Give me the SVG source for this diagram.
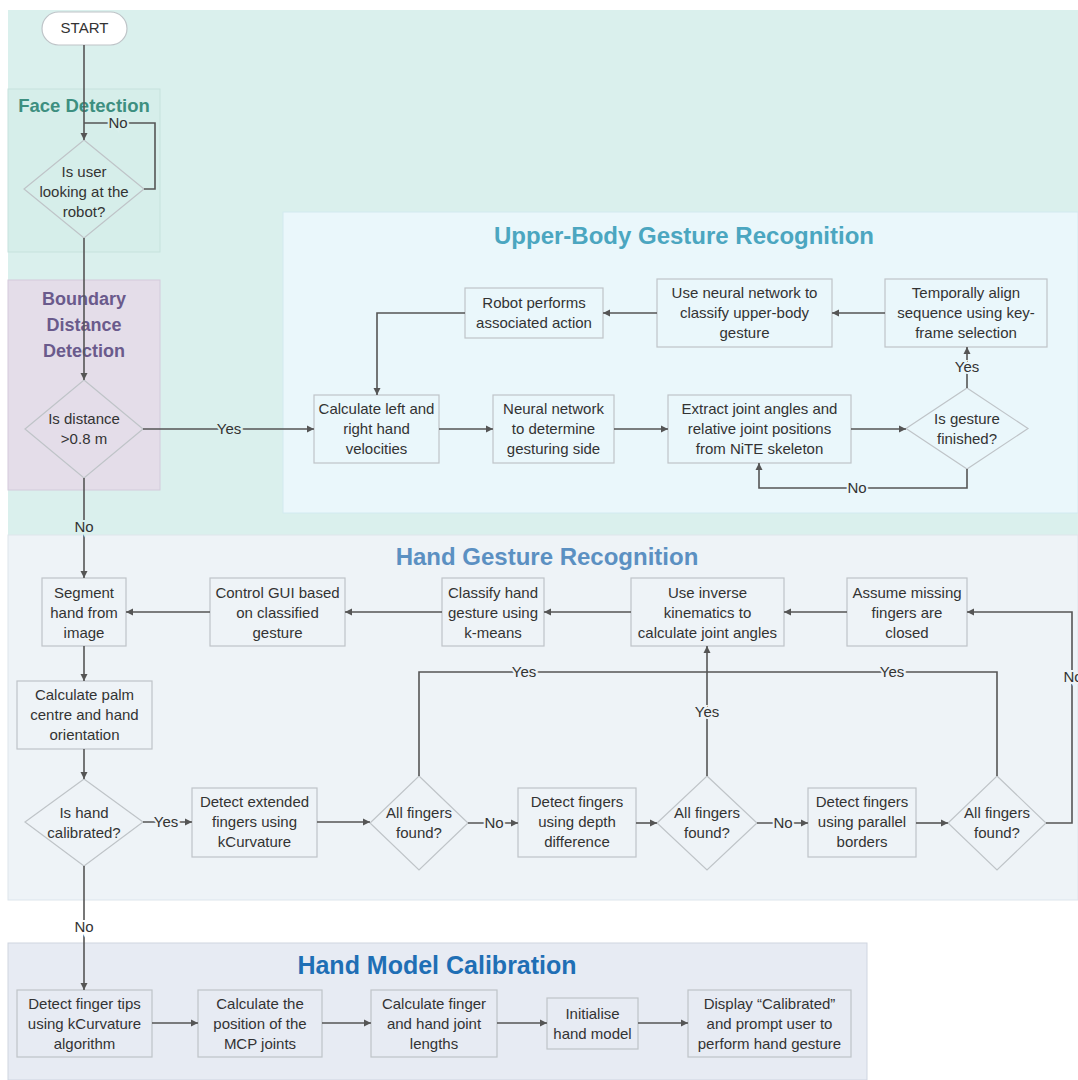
<svg xmlns="http://www.w3.org/2000/svg" width="1078" height="1080" viewBox="0 0 1078 1080">
<defs>
<marker id="arr" markerUnits="userSpaceOnUse" markerWidth="8" markerHeight="8" refX="7" refY="4" orient="auto">
<path d="M0,0.5 L7,4 L0,7.5 z" fill="#555"/>
</marker>
<style>
.t{font-family:"Liberation Sans",Arial,sans-serif;font-size:15px;fill:#333;text-anchor:middle}
.lbl{font-family:"Liberation Sans",Arial,sans-serif;font-size:15px;fill:#333;text-anchor:middle;paint-order:stroke;stroke-width:4px}
.lt{stroke:#daf0ed}.lu{stroke:#eaf7fb}.lh{stroke:#eef3f7}.lw{stroke:#ffffff}
.title{font-family:"Liberation Sans",Arial,sans-serif;font-weight:bold;text-anchor:middle}
.box{fill:none;stroke:#bfc4c8;stroke-width:1.2}
.c{fill:none;stroke:#555;stroke-width:1.6}
.ca{fill:none;stroke:#555;stroke-width:1.6;marker-end:url(#arr)}
</style>
</defs>
<rect width="1078" height="1080" fill="#ffffff"/>
<g id="regions">
<rect x="8" y="10" width="1070" height="525" fill="#daf0ed"/>
<rect x="8" y="89" width="152" height="163" fill="#d6eeea" stroke="#c6e2dd"/>
<rect x="8" y="280" width="152" height="210" fill="#e4dde9" stroke="#d3cadb"/>
<rect x="283" y="212" width="795" height="301" fill="#eaf7fb" stroke="#d2eaf0"/>
<rect x="8" y="535" width="1070" height="365" fill="#eef3f7" stroke="#dde5ec"/>
<rect x="8" y="943" width="859" height="137" fill="#e7ebf3" stroke="#cfd5e0"/>
</g>
<g id="titles">
<text class="title" x="84" y="112" font-size="18.5" fill="#3d8f80">Face Detection</text>
<text class="title" x="84" y="305" font-size="18" fill="#6a5a8c">Boundary</text>
<text class="title" x="84" y="331" font-size="18" fill="#6a5a8c">Distance</text>
<text class="title" x="84" y="357" font-size="18" fill="#6a5a8c">Detection</text>
<text class="title" x="684" y="244" font-size="24" fill="#4ba6c0">Upper-Body Gesture Recognition</text>
<text class="title" x="547" y="565" font-size="24" fill="#5b90c2">Hand Gesture Recognition</text>
<text class="title" x="437" y="974" font-size="25" fill="#1f6fb5">Hand Model Calibration</text>
</g>
<g id="nodes">
<g id="start"><rect x="42" y="12" width="85" height="33" rx="16.5" fill="#ffffff" stroke="#bfc4c8" stroke-width="1.2"/><text class="t" x="84.5" y="33">START</text></g>
<g id="d_face"><polygon class="box" points="84,140 144,189 84,238 24,189"/><text class="t" x="84" y="177">Is user</text><text class="t" x="84" y="197">looking at the</text><text class="t" x="84" y="217">robot?</text></g>
<g id="d_dist"><polygon class="box" points="84,380 143,429 84,478 25,429"/><text class="t" x="84" y="424">Is distance</text><text class="t" x="84" y="444">&gt;0.8 m</text></g>
<g id="robot"><rect class="box" x="465" y="288" width="138" height="50"/><text class="t" x="534" y="308">Robot performs</text><text class="t" x="534" y="328">associated action</text></g>
<g id="nn_classify"><rect class="box" x="657" y="279" width="175" height="68"/><text class="t" x="744.5" y="298">Use neural network to</text><text class="t" x="744.5" y="318">classify upper-body</text><text class="t" x="744.5" y="338">gesture</text></g>
<g id="temporal"><rect class="box" x="885" y="279" width="162" height="68"/><text class="t" x="966" y="298">Temporally align</text><text class="t" x="966" y="318">sequence using key-</text><text class="t" x="966" y="338">frame selection</text></g>
<g id="calc_vel"><rect class="box" x="314" y="395" width="125" height="68"/><text class="t" x="376.5" y="414">Calculate left and</text><text class="t" x="376.5" y="434">right hand</text><text class="t" x="376.5" y="454">velocities</text></g>
<g id="nn_side"><rect class="box" x="493" y="395" width="121" height="68"/><text class="t" x="553.5" y="414">Neural network</text><text class="t" x="553.5" y="434">to determine</text><text class="t" x="553.5" y="454">gesturing side</text></g>
<g id="extract"><rect class="box" x="668" y="395" width="183" height="68"/><text class="t" x="759.5" y="414">Extract joint angles and</text><text class="t" x="759.5" y="434">relative joint positions</text><text class="t" x="759.5" y="454">from NiTE skeleton</text></g>
<g id="d_gesture"><polygon class="box" points="967,388 1028,428.5 967,469 906,428.5"/><text class="t" x="967" y="424">Is gesture</text><text class="t" x="967" y="444">finished?</text></g>
<g id="segment"><rect class="box" x="42" y="578" width="84" height="68"/><text class="t" x="84" y="598">Segment</text><text class="t" x="84" y="618">hand from</text><text class="t" x="84" y="638">image</text></g>
<g id="control"><rect class="box" x="210" y="578" width="135" height="68"/><text class="t" x="277.5" y="598">Control GUI based</text><text class="t" x="277.5" y="618">on classified</text><text class="t" x="277.5" y="638">gesture</text></g>
<g id="classify"><rect class="box" x="442" y="578" width="102" height="68"/><text class="t" x="493" y="598">Classify hand</text><text class="t" x="493" y="618">gesture using</text><text class="t" x="493" y="638">k-means</text></g>
<g id="ik"><rect class="box" x="631" y="578" width="153" height="68"/><text class="t" x="707.5" y="598">Use inverse</text><text class="t" x="707.5" y="618">kinematics to</text><text class="t" x="707.5" y="638">calculate joint angles</text></g>
<g id="assume"><rect class="box" x="847" y="578" width="120" height="68"/><text class="t" x="907" y="598">Assume missing</text><text class="t" x="907" y="618">fingers are</text><text class="t" x="907" y="638">closed</text></g>
<g id="palm"><rect class="box" x="17" y="681" width="135" height="68"/><text class="t" x="84.5" y="700">Calculate palm</text><text class="t" x="84.5" y="720">centre and hand</text><text class="t" x="84.5" y="740">orientation</text></g>
<g id="d_calib"><polygon class="box" points="84,779 143,822 84,866 25,822"/><text class="t" x="84" y="818">Is hand</text><text class="t" x="84" y="838">calibrated?</text></g>
<g id="ext"><rect class="box" x="192" y="788" width="125" height="69"/><text class="t" x="254.5" y="807">Detect extended</text><text class="t" x="254.5" y="827">fingers using</text><text class="t" x="254.5" y="847">kCurvature</text></g>
<g id="d_all1"><polygon class="box" points="419,776 468,823 419,870 370,823"/><text class="t" x="419" y="818">All fingers</text><text class="t" x="419" y="838">found?</text></g>
<g id="depth"><rect class="box" x="518" y="788" width="118" height="69"/><text class="t" x="577" y="807">Detect fingers</text><text class="t" x="577" y="827">using depth</text><text class="t" x="577" y="847">difference</text></g>
<g id="d_all2"><polygon class="box" points="707,776 757,823 707,870 657,823"/><text class="t" x="707" y="818">All fingers</text><text class="t" x="707" y="838">found?</text></g>
<g id="parallel"><rect class="box" x="808" y="788" width="108" height="69"/><text class="t" x="862" y="807">Detect fingers</text><text class="t" x="862" y="827">using parallel</text><text class="t" x="862" y="847">borders</text></g>
<g id="d_all3"><polygon class="box" points="997,776 1046,823 997,870 948,823"/><text class="t" x="997" y="818">All fingers</text><text class="t" x="997" y="838">found?</text></g>
<g id="tips"><rect class="box" x="17" y="990" width="135" height="67"/><text class="t" x="84.5" y="1009">Detect finger tips</text><text class="t" x="84.5" y="1029">using kCurvature</text><text class="t" x="84.5" y="1049">algorithm</text></g>
<g id="mcp"><rect class="box" x="198" y="990" width="124" height="67"/><text class="t" x="260" y="1009">Calculate the</text><text class="t" x="260" y="1029">position of the</text><text class="t" x="260" y="1049">MCP joints</text></g>
<g id="lengths"><rect class="box" x="371" y="990" width="126" height="67"/><text class="t" x="434" y="1009">Calculate finger</text><text class="t" x="434" y="1029">and hand joint</text><text class="t" x="434" y="1049">lengths</text></g>
<g id="init"><rect class="box" x="547" y="998" width="91" height="51"/><text class="t" x="592.5" y="1019">Initialise</text><text class="t" x="592.5" y="1039">hand model</text></g>
<g id="display"><rect class="box" x="688" y="990" width="163" height="67"/><text class="t" x="769.5" y="1009">Display “Calibrated”</text><text class="t" x="769.5" y="1029">and prompt user to</text><text class="t" x="769.5" y="1049">perform hand gesture</text></g>
</g>
<g id="connectors">
<path class="ca" d="M84,45 V140"/>
<path class="c" d="M144,189 H155 V123 H84"/>
<text class="lbl lt" x="118" y="128">No</text>
<path class="ca" d="M84,238 V380"/>
<path class="ca" d="M143,429 H314"/>
<text class="lbl lt" x="229" y="434">Yes</text>
<path class="ca" d="M84,478 V578"/>
<text class="lbl lt" x="84" y="532">No</text>
<path class="ca" d="M465,313 H377 V395"/>
<path class="ca" d="M657,313 H603"/>
<path class="ca" d="M885,313 H832"/>
<path class="ca" d="M439,429 H493"/>
<path class="ca" d="M614,429 H668"/>
<path class="ca" d="M851,429 H906"/>
<path class="ca" d="M967,388 V347"/>
<text class="lbl lu" x="967" y="372">Yes</text>
<path class="ca" d="M967,469 V488 H759 V463"/>
<text class="lbl lu" x="857" y="493">No</text>
<path class="ca" d="M210,612 H126"/>
<path class="ca" d="M442,612 H345"/>
<path class="ca" d="M631,612 H544"/>
<path class="ca" d="M847,612 H784"/>
<path class="ca" d="M84,646 V681"/>
<path class="ca" d="M84,749 V779"/>
<path class="ca" d="M143,822 H192"/>
<text class="lbl lh" x="166" y="827">Yes</text>
<path class="ca" d="M317,822 H370"/>
<path class="ca" d="M468,823 H518"/>
<text class="lbl lh" x="494" y="828">No</text>
<path class="ca" d="M636,823 H657"/>
<path class="ca" d="M757,823 H808"/>
<text class="lbl lh" x="783" y="828">No</text>
<path class="ca" d="M916,823 H948"/>
<path class="c" d="M419,776 V672 H707"/>
<text class="lbl lh" x="524" y="677">Yes</text>
<path class="c" d="M997,776 V672 H707"/>
<text class="lbl lh" x="892" y="677">Yes</text>
<path class="ca" d="M707,776 V646"/>
<text class="lbl lh" x="707" y="717">Yes</text>
<path class="ca" d="M1046,823 H1072 V612 H967"/>
<text class="lbl lh" x="1073" y="682">No</text>
<path class="ca" d="M84,866 V990"/>
<text class="lbl lw" x="84" y="932">No</text>
<path class="ca" d="M152,1023 H198"/>
<path class="ca" d="M322,1023 H371"/>
<path class="ca" d="M497,1023 H547"/>
<path class="ca" d="M638,1023 H688"/>
</g>
</svg>
